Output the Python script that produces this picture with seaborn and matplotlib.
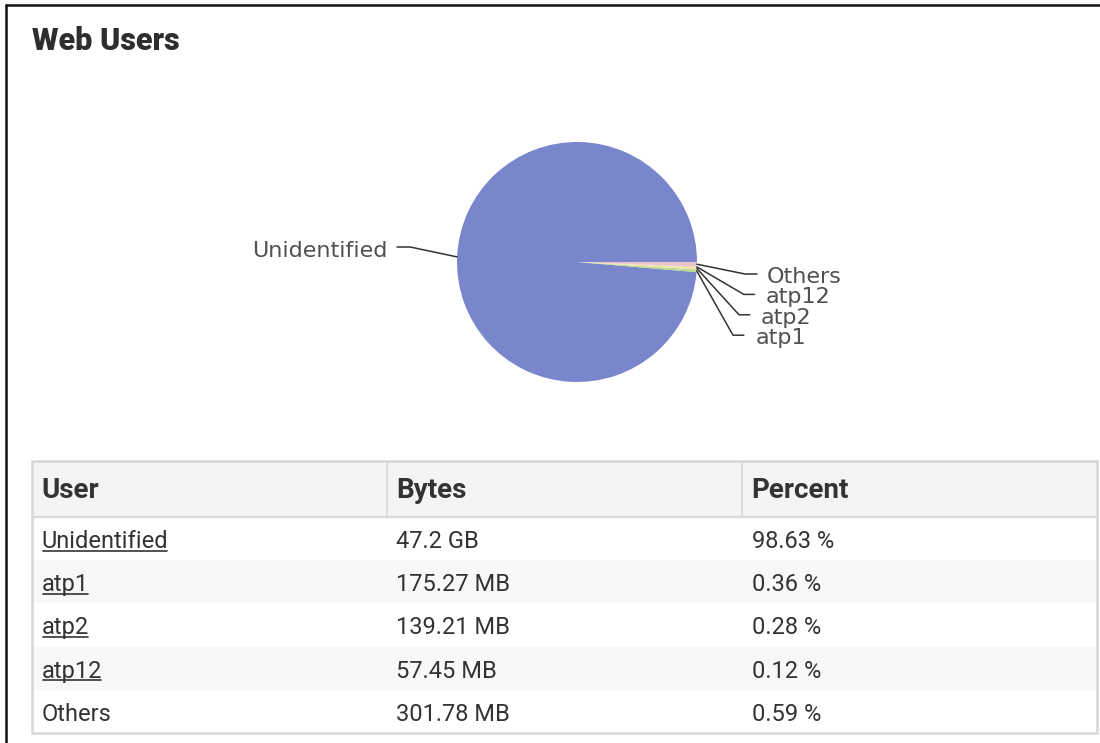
import numpy as np
import matplotlib
matplotlib.use("Agg")
import matplotlib.pyplot as plt
import seaborn as sns
from matplotlib.patches import Rectangle
from matplotlib.lines import Line2D

# ---------------- data ----------------
title = "Web Users"
columns = ["User", "Bytes", "Percent"]
users = ["Unidentified", "atp1", "atp2", "atp12", "Others"]
bytes_text = ["47.2 GB", "175.27 MB", "139.21 MB", "57.45 MB", "301.78 MB"]
percent_values = [98.63, 0.36, 0.28, 0.12, 0.59]
percent_text = ["98.63 %", "0.36 %", "0.28 %", "0.12 %", "0.59 %"]
linked = [True, True, True, True, False]
slice_colors = ["#7986cb", "#b9dc8e", "#efe7a6", "#f2cfae", "#e9c3c9"]

# ---------------- style ----------------
sns.set_theme(style="white")
plt.rcParams["font.family"] = ["Roboto", "DejaVu Sans"]
palette = sns.color_palette(slice_colors)

W, H = 1100, 743
fig = plt.figure(figsize=(W / 100, H / 100), dpi=100)
fig.patch.set_facecolor("white")


def px_axes(left, top, width, height):
    return fig.add_axes([left / W, 1 - (top + height) / H, width / W, height / H])


# outer frame (left and top edges visible)
fig.add_artist(Line2D([6 / W, 6 / W], [0, 1 - 4.5 / H], color="#111111", lw=1.8,
                      transform=fig.transFigure))
fig.add_artist(Line2D([6 / W, 1], [1 - 4.5 / H, 1 - 4.5 / H], color="#111111", lw=1.8,
                      transform=fig.transFigure))

fig.text(32 / W, 1 - 41 / H, title, fontsize=22, fontweight="heavy", color="#2e2e2e",
         ha="left", va="center")

# ---------------- pie ----------------
ax = px_axes(457, 142, 240, 240)
ax.pie(percent_values, colors=palette, startangle=0, counterclock=True, radius=1,
       wedgeprops=dict(linewidth=0))
ax.set_xlim(-1, 1)
ax.set_ylim(-1, 1)
ax.set_aspect("equal")
ax.set_axis_off()

vals = np.asarray(percent_values, dtype=float)
cum = np.cumsum(vals) / vals.sum() * 360.0
mids = cum - vals / vals.sum() * 180.0

# label layout: (elbow start, elbow end, text anchor, ha)
label_layout = {
    0: ((-1.39, 0.125), (-1.50, 0.125), (-1.583, 0.095), "right"),
    4: ((1.40, -0.10), (1.50, -0.10), (1.58, -0.125), "left"),
    3: ((1.39, -0.27), (1.48, -0.27), (1.57, -0.295), "left"),
    2: ((1.35, -0.44), (1.44, -0.44), (1.53, -0.465), "left"),
    1: ((1.30, -0.61), (1.39, -0.61), (1.49, -0.635), "left"),
}
for i, name in enumerate(users):
    a = np.deg2rad(mids[i])
    edge = (np.cos(a), np.sin(a))
    e1, e2, tp, ha = label_layout[i]
    ax.add_line(Line2D([edge[0], e1[0], e2[0]], [edge[1], e1[1], e2[1]],
                       color="#333333", lw=1.1, clip_on=False))
    ax.text(tp[0], tp[1], name, ha=ha, va="center", fontsize=16, color="#505050",
            family=["DejaVu Sans"], clip_on=False)

# ---------------- table ----------------
TW, TH = 1065, 272
header_h = 56.0
row_h = (TH - header_h) / len(users)
col_w = TW / len(columns)
pad = 9.5

tax = px_axes(32, 461, TW, TH)
tax.set_xlim(0, TW)
tax.set_ylim(TH, 0)
tax.set_axis_off()

tax.add_patch(Rectangle((0, 0), TW, header_h, facecolor="#f4f4f4", edgecolor="none"))
for i in range(len(users)):
    if i % 2 == 1:
        tax.add_patch(Rectangle((0, header_h + i * row_h), TW, row_h,
                                facecolor="#f8f8f8", edgecolor="none"))
tax.add_line(Line2D([0, TW], [header_h, header_h], color="#d9d9d9", lw=1.6))
for c in range(1, len(columns)):
    tax.add_line(Line2D([c * col_w, c * col_w], [0, header_h], color="#d9d9d9", lw=1.3))
tax.add_patch(Rectangle((0, 0), TW, TH, fill=False, edgecolor="#d6d6d6", lw=1.8,
                        clip_on=False))

for c, col in enumerate(columns):
    tax.text(c * col_w + pad, header_h / 2 + 9.5, col, fontsize=20, fontweight="bold",
             color="#333333", ha="left", va="baseline")

body_texts = []
for i in range(len(users)):
    base = header_h + i * row_h + 31
    cells = [users[i], bytes_text[i], percent_text[i]]
    for c, val in enumerate(cells):
        t = tax.text(c * col_w + pad, base, val, fontsize=17, color="#333333",
                     ha="left", va="baseline")
        if c == 0:
            body_texts.append((t, base))

fig.canvas.draw()
inv = tax.transData.inverted()
for (t, base), is_link in zip(body_texts, linked):
    if not is_link:
        continue
    bb = t.get_window_extent()
    x0 = inv.transform((bb.x0, bb.y0))[0]
    x1 = inv.transform((bb.x1, bb.y0))[0]
    tax.add_line(Line2D([x0 + 1, x1 - 1], [base + 2.5, base + 2.5], color="#333333", lw=1.2))

fig.savefig("out.png", dpi=100, facecolor="white")
